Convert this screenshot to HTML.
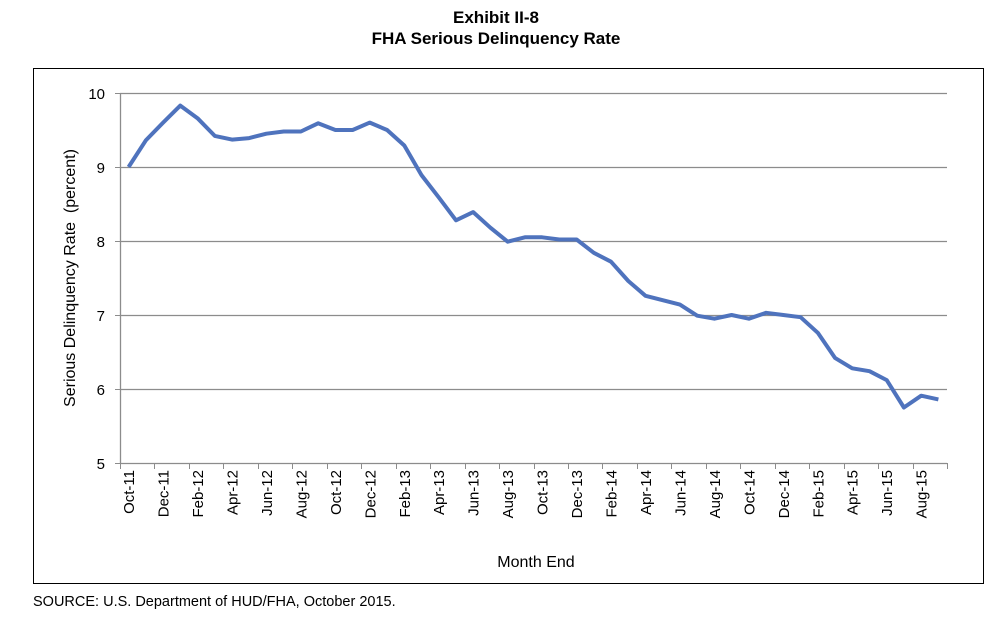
<!DOCTYPE html>
<html><head><meta charset="utf-8"><style>
body{margin:0;width:993px;height:621px;background:#fff;overflow:hidden;font-family:"Liberation Sans",Arial,sans-serif}
</style></head><body>
<svg width="993" height="621" xmlns="http://www.w3.org/2000/svg" font-family="Liberation Sans, Arial, sans-serif">
<text x="496" y="23" text-anchor="middle" font-size="17" font-weight="bold">Exhibit II-8</text>
<text x="496" y="44" text-anchor="middle" font-size="17" font-weight="bold">FHA Serious Delinquency Rate</text>
<rect x="33.5" y="68.5" width="950" height="515" fill="none" stroke="#000" stroke-width="1"/>
<g id="grid"></g>
<g id="axes"></g>
<g id="series"></g>
<text transform="translate(75,278) rotate(-90)" text-anchor="middle" font-size="16">Serious Delinquency Rate &#160;(percent)</text>
<text x="536" y="567" text-anchor="middle" font-size="16">Month End</text>
<text x="33" y="606" font-size="14.5">SOURCE: U.S. Department of HUD/FHA, October 2015.</text>
</svg>
<script>
const categories=(function(){const m=["Jan","Feb","Mar","Apr","May","Jun","Jul","Aug","Sep","Oct","Nov","Dec"];const out=[];let mi=9,y=11;for(let i=0;i<48;i++){out.push(m[mi]+"-"+y);mi++;if(mi>11){mi=0;y++;}}return out;})();
const values=[9.0,9.36,9.60,9.83,9.66,9.42,9.37,9.39,9.45,9.48,9.48,9.59,9.50,9.50,9.60,9.50,9.29,8.89,8.59,8.28,8.39,8.18,7.99,8.05,8.05,8.02,8.02,7.84,7.72,7.46,7.26,7.20,7.14,6.99,6.95,7.00,6.95,7.03,7.00,6.97,6.76,6.42,6.28,6.24,6.12,5.75,5.91,5.86];
const yTicks=[5,6,7,8,9,10];
const NS="http://www.w3.org/2000/svg";
const X0=120,X1=947,Y0=463,Y1=93,YMIN=5,YMAX=10;
const bw=(X1-X0)/categories.length;
function xs(i){return X0+bw*(i+0.5);}
function ys(v){return Y0-(v-YMIN)/(YMAX-YMIN)*(Y0-Y1);}
function mk(tag,attrs,parent){const e=document.createElementNS(NS,tag);for(const k in attrs)e.setAttribute(k,attrs[k]);parent.appendChild(e);return e;}
const grid=document.getElementById('grid'),axes=document.getElementById('axes'),series=document.getElementById('series');
yTicks.forEach(t=>{
  const y=Math.round(ys(t))+0.5;
  if(t>YMIN){const l=mk('line',{x1:X0,x2:X1,y1:y,y2:y,stroke:'#8c8c8c','stroke-width':1.3},grid);
  
  }
  const tk=mk('line',{x1:X0-5,x2:X0,y1:y,y2:y,stroke:'#8c8c8c'},axes);
  
  
  const tx=mk('text',{x:105,y:y+5.5,'text-anchor':'end','font-size':15},axes);tx.textContent=t;
  
  
});
const ya=mk('line',{x1:X0+0.5,x2:X0+0.5,y1:Y1,y2:Y0+0.5,stroke:'#8c8c8c','stroke-width':1.3},axes);


const xa=mk('line',{x1:X0,x2:X1,y1:Y0+0.5,y2:Y0+0.5,stroke:'#8c8c8c','stroke-width':1.3},axes);


for(let i=0;i<=categories.length;i+=2){
  const x=Math.round(X0+bw*i)+0.5;
  const tk=mk('line',{x1:x,x2:x,y1:Y0,y2:Y0+6,stroke:'#8c8c8c'},axes);
  
  
}
categories.forEach((c,i)=>{
  if(i%2)return;
  const x=xs(i);
  const t=mk('text',{transform:`translate(${x+5.5},470) rotate(-90)`,'text-anchor':'end','font-size':15},axes);
  t.textContent=c;
  
  
});
const pts=values.map((v,i)=>xs(i).toFixed(1)+','+ys(v).toFixed(1)).join(' ');
const pl=mk('polyline',{points:pts,fill:'none',stroke:'#4f73bd','stroke-width':4,'stroke-linejoin':'round'},series);


</script>
</body></html>
